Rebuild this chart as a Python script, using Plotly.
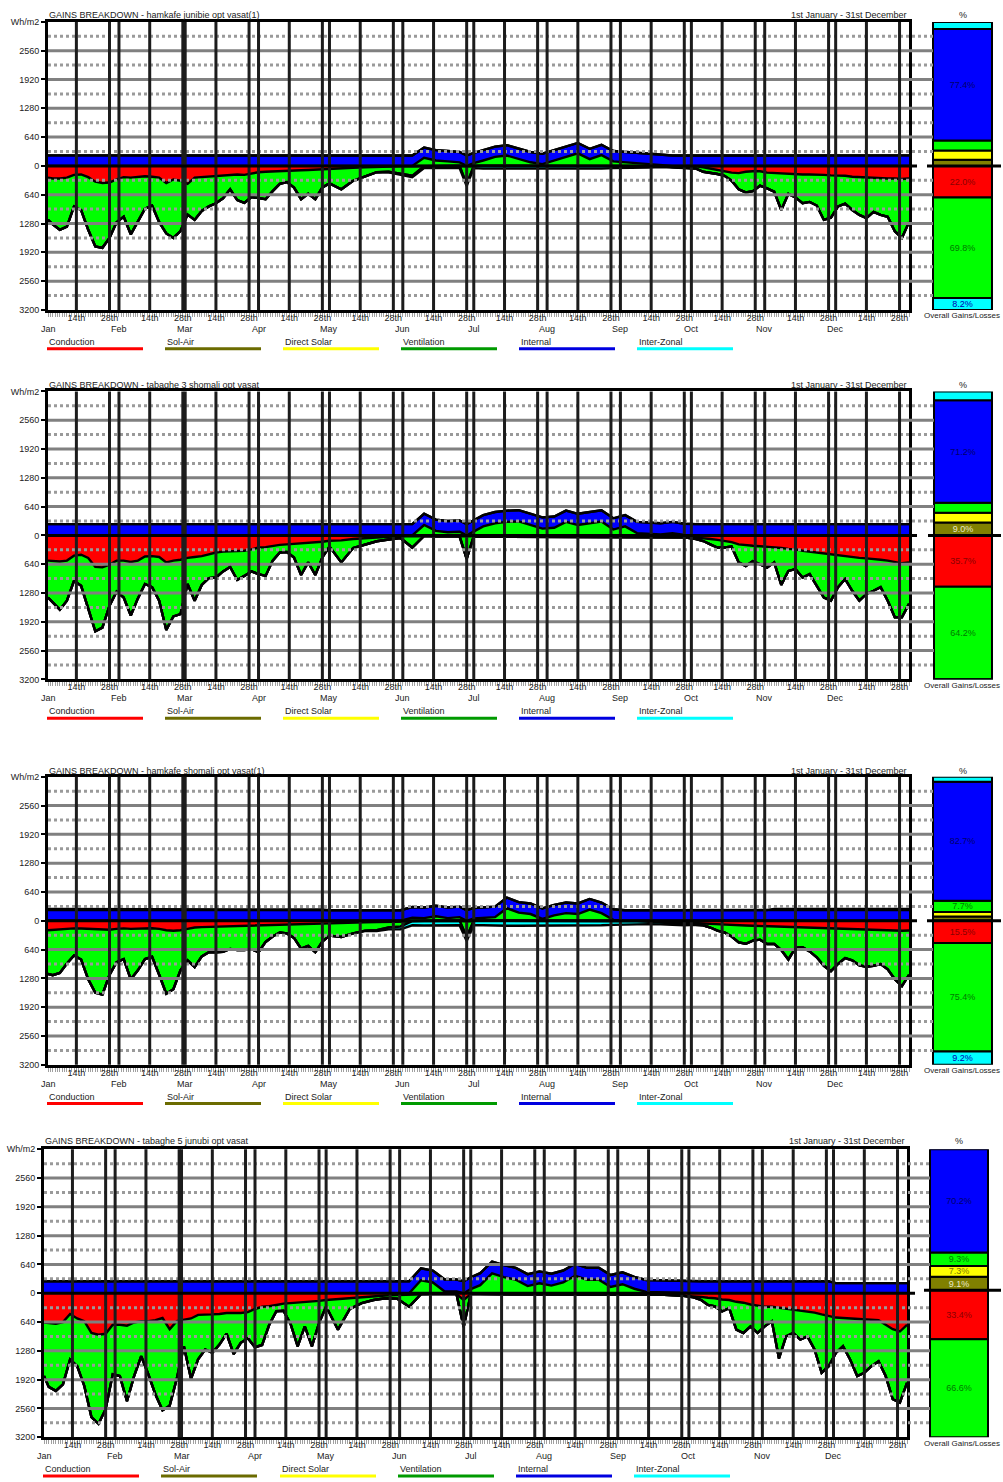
import numpy as np
import plotly.graph_objects as go

W, H = 1003, 1482
FONT = "Liberation Sans, Arial, Helvetica, sans-serif"

# ---------------- data ----------------
DAYS = [1, 3, 6, 9, 12, 15, 18, 21, 24, 27,
        30, 33, 36, 39, 42, 45, 48, 51, 54, 57,
        60, 63, 66, 69, 72, 75, 78, 81, 84, 87,
        90, 93, 96, 99, 102, 105, 108, 111, 114, 117,
        120, 125, 130, 135, 140, 145, 150, 155, 160, 165,
        170, 175, 178, 181, 185, 190, 195, 200, 205, 210,
        215, 220, 225, 230, 235, 240, 245, 250, 255, 260,
        265, 270, 275,
        278, 281, 284, 287, 290, 293, 296, 299, 302, 305,
        308, 311, 314, 317, 320, 323, 326, 329, 332, 335,
        338, 341, 344, 347, 350, 353, 356, 359, 362,
        365]

CATS = ["Conduction", "Sol-Air", "Direct Solar", "Ventilation", "Internal", "Inter-Zonal"]
MONTHS = ["Jan", "Feb", "Mar", "Apr", "May", "Jun", "Jul", "Aug", "Sep", "Oct", "Nov", "Dec"]
MONTH_START = [0, 31, 59, 90, 120, 151, 181, 212, 243, 273, 304, 334]

# Panel 1 - hamkafe junibie opt vasat(1)
P1_COND = [-260, -280, -280, -260, -200, -190, -250, -350, -380, -370,
           -300, -250, -260, -250, -230, -240, -260, -380, -300, -330,
           -400, -260, -250, -240, -220, -210, -200, -190, -200, -170,
           -140, -130, -120, -110, -100, -95, -95, -90, -80, -70,
           -60, -50, -40, -30, -20, -15, -10, -10, -5, 0,
           0, 0, -10, 0, 0, 0, 0, 0, 0, 0,
           0, 0, 0, 0, 0, 0, 0, 0, -5, -5,
           -5, -5, -10,
           -30, -60, -90, -110, -150, -160, -130, -120, -120, -150,
           -160, -170, -180, -180, -190, -190, -190, -200, -210, -210,
           -220, -240, -250, -260, -270, -280, -280, -280, -290,
           -280]
P1_VENT = [-940, -1020, -1140, -1090, -700, -790, -1170, -1440, -1440, -1230,
           -950, -880, -1260, -1000, -720, -640, -990, -1120, -1300, -1120,
           -680, -940, -750, -660, -610, -510, -320, -570, -620, -520,
           -580, -610, -440, -290, -260, -385, -645, -530, -660, -410,
           -330, -470, -290, -200, -120, -115, -160, -210, 180, 120,
           100, 80, -400, 60, 120, 200, 230, 150, 80, 40,
           120, 200, 280, 150, 240, 100, 80, 60, 30, 10,
           -20, -40, -50,
           -100, -90, -90, -110, -180, -360, -460, -440, -320, -350,
           -410, -810, -440, -520, -640, -610, -690, -1000, -940, -690,
           -620, -740, -840, -900, -750, -810, -850, -1170, -1310,
           -970]
P1_INT = [235, 235, 235, 235, 235, 235, 235, 235, 235, 235,
          235, 235, 235, 235, 235, 235, 235, 235, 235, 235,
          235, 235, 235, 235, 235, 235, 235, 235, 235, 235,
          235, 235, 235, 235, 235, 235, 235, 235, 235, 235,
          230, 230, 230, 230, 230, 230, 230, 230, 230, 230,
          230, 230, 230, 230, 230, 230, 230, 230, 230, 230,
          230, 230, 230, 230, 230, 230, 230, 230, 230, 230,
          230, 230, 230,
          235, 235, 235, 235, 235, 235, 235, 235, 235, 235,
          235, 235, 235, 235, 235, 235, 235, 235, 235, 235,
          235, 235, 235, 235, 235, 235, 235, 235, 235,
          235]
P1_IZ = [0, 0, 0, 0, 0, 0, 0, 0, 0, 0,
         0, 0, 0, 0, 0, 0, 0, 0, 0, 0,
         0, 0, 0, 0, 0, 0, 0, 0, 0, 0,
         0, 0, 0, 0, 0, 0, 0, 0, 0, 0,
         0, 0, 0, 0, 0, -10, -20, -30, -40, -50,
         -50, -50, -40, -50, -60, -60, -60, -70, -60, -60,
         -60, -60, -60, -60, -60, -50, -50, -40, -30, -20,
         -10, -10, 0,
         0, 0, 0, 0, 0, 0, 0, 0, 0, 0,
         0, 0, 0, 0, 0, 0, 0, 0, 0, 0,
         0, 0, 0, 0, 0, 0, 0, 0, 0,
         0]

# Panel 2 - tabaghe 3 shomali opt vasat
P2_COND = [-560, -570, -580, -560, -450, -430, -500, -700, -710, -650,
           -560, -560, -590, -560, -470, -460, -480, -600, -560, -540,
           -500, -480, -460, -420, -380, -360, -350, -350, -340, -310,
           -270, -260, -230, -210, -200, -190, -180, -170, -160, -140,
           -120, -110, -80, -60, -40, -30, -20, -20, -10, -20,
           -20, -20, -20, -20, -30, -30, -30, -30, -30, -30,
           -30, -30, -30, -30, -30, -30, -30, -30, -30, -30,
           -30, -40, -50,
           -60, -80, -100, -120, -150, -200, -220, -230, -240, -250,
           -260, -280, -300, -310, -340, -360, -390, -410, -430, -450,
           -470, -490, -500, -510, -520, -540, -560, -590, -620,
           -600]
P2_VENT = [-820, -910, -1070, -890, -560, -690, -1150, -1430, -1340, -910,
           -690, -820, -1190, -840, -610, -690, -970, -1500, -1240, -1210,
           -580, -970, -640, -530, -555, -440, -350, -640, -560, -490,
           -590, -640, -330, -170, -170, -300, -700, -430, -720, -350,
           -130, -490, -200, -140, -90, -60, -40, -250, 230, 100,
           70, 80, -500, 80, 200, 270, 300, 310, 230, 150,
           170, 300, 230, 270, 310, 130, 200, 50, 30, 20,
           50, 10, -30,
           -65, -120, -170, -150, -100, -400, -460, -340, -400, -465,
           -340, -820, -490, -440, -595, -500, -730, -970, -1020, -700,
           -500, -740, -950, -790, -710, -610, -890, -1230, -1200,
           -920]
P2_INT = [250, 250, 250, 250, 250, 250, 250, 250, 250, 250,
          250, 250, 250, 250, 250, 250, 250, 250, 250, 250,
          250, 250, 250, 250, 250, 250, 250, 250, 250, 250,
          250, 250, 250, 250, 250, 250, 250, 250, 250, 250,
          250, 250, 250, 250, 250, 250, 250, 250, 250, 250,
          250, 250, 250, 250, 250, 250, 250, 250, 250, 250,
          250, 250, 250, 250, 250, 250, 250, 250, 250, 250,
          250, 250, 250,
          250, 250, 250, 250, 250, 250, 250, 250, 250, 250,
          250, 250, 250, 250, 250, 250, 250, 250, 250, 250,
          250, 250, 250, 250, 250, 250, 250, 250, 250,
          250]
P2_IZ = [0, 0, 0, 0, 0, 0, 0, 0, 0, 0,
         0, 0, 0, 0, 0, 0, 0, 0, 0, 0,
         0, 0, 0, 0, 0, 0, 0, 0, 0, 0,
         0, 0, 0, 0, 0, 0, 0, 0, 0, 0,
         0, 0, 0, 0, 0, 0, 0, 0, 0, 0,
         0, 0, 0, 0, 0, 0, 0, 0, 0, 0,
         0, 0, 0, 0, 0, 0, 0, 0, 0, 0,
         0, 0, 0,
         0, 0, 0, 0, 0, 0, 0, 0, 0, 0,
         0, 0, 0, 0, 0, 0, 0, 0, 0, 0,
         0, 0, 0, 0, 0, 0, 0, 0, 0,
         0]

# Panel 3 - hamkafe shomali opt vasat(1)
P3_COND = [-210, -200, -190, -180, -170, -170, -180, -190, -200, -200,
           -180, -170, -180, -175, -165, -165, -180, -210, -220, -210,
           -180, -150, -140, -135, -130, -125, -120, -115, -110, -105,
           -100, -90, -85, -80, -75, -70, -70, -65, -60, -55,
           -50, -45, -40, -35, -30, -25, -20, -10, -5, 0,
           0, 0, -10, 0, 0, 0, 0, 0, 0, 0,
           0, 0, 0, 0, 0, 0, 0, 0, -5, -10,
           -20, -30, -40,
           -60, -70, -80, -90, -95, -100, -105, -110, -115, -120,
           -130, -140, -150, -155, -160, -165, -170, -175, -180, -185,
           -190, -195, -200, -200, -205, -210, -215, -220, -220,
           -215]
P3_VENT = [-970, -1010, -970, -770, -600, -690, -1120, -1410, -1440, -1000,
           -740, -680, -1120, -925, -685, -635, -1020, -1410, -1300, -890,
           -700, -880, -650, -565, -570, -565, -505, -535, -540, -525,
           -600, -380, -265, -180, -205, -310, -550, -495, -640, -405,
           -280, -315, -240, -185, -180, -125, -110, 70, 60, 100,
           60, 80, -350, 50, 60, 80, 280, 180, 150, 40,
           120, 170, 150, 250, 170, 20, 0, -10, -20, -30,
           -40, -50, -40,
           -40, -80, -140, -170, -255, -380, -405, -330, -305, -395,
           -385, -510, -710, -445, -430, -515, -640, -825, -940, -775,
           -640, -685, -790, -820, -795, -750, -865, -1080, -1230,
           -985]
P3_INT = [240, 240, 240, 240, 240, 240, 240, 240, 240, 240,
          240, 240, 240, 240, 240, 240, 240, 240, 240, 240,
          240, 240, 240, 240, 240, 240, 240, 240, 240, 240,
          240, 240, 240, 240, 240, 240, 240, 240, 240, 240,
          235, 235, 235, 235, 235, 235, 235, 235, 235, 235,
          235, 235, 235, 235, 235, 235, 235, 235, 235, 235,
          235, 235, 235, 235, 235, 235, 235, 235, 235, 235,
          235, 235, 235,
          240, 240, 240, 240, 240, 240, 240, 240, 240, 240,
          240, 240, 240, 240, 240, 240, 240, 240, 240, 240,
          240, 240, 240, 240, 240, 240, 240, 240, 240,
          240]
P3_IZ = [25, 25, 25, 25, 25, 25, 25, 25, 25, 25,
         25, 25, 25, 25, 25, 25, 25, 25, 25, 25,
         25, 25, 25, 25, 25, 25, 25, 25, 25, 25,
         25, 10, 10, 10, 10, 10, 10, 10, 10, 10,
         0, 0, 0, -10, -20, -40, -60, -90, -100, -100,
         -100, -100, -90, -100, -100, -110, -110, -110, -110, -100,
         -100, -100, -100, -100, -100, -90, -80, -70, -50, -40,
         -30, -20, -10,
         0, 0, 0, 0, 0, 0, 0, 0, 0, 0,
         25, 25, 25, 25, 25, 25, 25, 25, 25, 25,
         25, 25, 25, 25, 25, 25, 25, 25, 25,
         25]

# Panel 4 - tabaghe 5 junubi opt vasat
P4_COND = [-650, -660, -680, -640, -460, -560, -620, -880, -920, -900,
           -700, -700, -720, -650, -620, -620, -600, -550, -800, -620,
           -590, -560, -480, -480, -470, -460, -440, -440, -440, -420,
           -350, -300, -290, -260, -230, -220, -210, -200, -190, -170,
           -150, -130, -100, -80, -70, -50, -40, -30, -20, -20,
           -20, -20, -150, -20, -20, -20, -20, -20, -20, -20,
           -20, -20, -20, -20, -20, -20, -20, -20, -20, -30,
           -40, -50, -60,
           -80, -100, -110, -140, -150, -190, -210, -250, -280, -300,
           -300, -320, -350, -370, -390, -410, -430, -470, -500, -540,
           -550, -560, -570, -580, -590, -600, -700, -800, -850,
           -700]
P4_VENT = [-1190, -1420, -1490, -1384, -1010, -1060, -1440, -1870, -1980, -1676,
           -1100, -1140, -1680, -1190, -780, -1180, -1650, -2050, -1700, -1280,
           -590, -1340, -990, -770, -855, -680, -460, -910, -660, -580,
           -850, -850, -410, -140, -160, -460, -970, -536, -990, -492,
           -144, -680, -250, -140, -80, -60, -80, -270, 290, 240,
           40, 40, -600, 90, 180, 440, 360, 300, 160, 220,
           170, 240, 390, 300, 300, 140, 200, 100, 30, 20,
           20, 0, -30,
           -67, -158, -184, -265, -180, -620, -673, -486, -603, -436,
           -325, -1130, -607, -513, -640, -547, -820, -1296, -1120, -785,
           -628, -912, -1270, -1186, -1030, -910, -1140, -1555, -1580,
           -1290]
P4_INT = [265, 265, 265, 265, 265, 265, 265, 265, 265, 265,
          265, 265, 265, 265, 265, 265, 265, 265, 265, 265,
          265, 265, 265, 265, 265, 265, 265, 265, 265, 265,
          265, 265, 265, 265, 265, 265, 265, 265, 265, 265,
          265, 265, 265, 265, 265, 265, 265, 265, 265, 265,
          265, 265, 265, 265, 265, 265, 265, 265, 265, 265,
          265, 265, 265, 265, 265, 265, 265, 265, 265, 265,
          265, 265, 265,
          265, 265, 265, 265, 265, 265, 265, 265, 265, 265,
          265, 265, 265, 265, 265, 265, 265, 265, 265, 225,
          225, 225, 225, 225, 225, 225, 225, 225, 225,
          225]
P4_IZ = [0, 0, 0, 0, 0, 0, 0, 0, 0, 0,
         0, 0, 0, 0, 0, 0, 0, 0, 0, 0,
         0, 0, 0, 0, 0, 0, 0, 0, 0, 0,
         0, 0, 0, 0, 0, 0, 0, 0, 0, 0,
         0, 0, 0, 0, 0, 0, 0, 0, 0, 0,
         0, 0, 0, 0, 0, 0, 0, 0, 0, 0,
         0, 0, 0, 0, 0, 0, 0, 0, 0, 0,
         0, 0, 0,
         0, 0, 0, 0, 0, 0, 0, 0, 0, 0,
         0, 0, 0, 0, 0, 0, 0, 0, 0, 0,
         0, 0, 0, 0, 0, 0, 0, 0, 0,
         0]

# Overall gains / losses percentages (order of CATS)
P1_GAINS = [0, 4.2, 6.5, 6.9, 77.4, 5.0]
P1_LOSSES = [22.0, 0, 0, 69.8, 0, 8.2]
P2_GAINS = [0, 9.0, 6.7, 6.9, 71.2, 6.2]
P2_LOSSES = [35.7, 0, 0, 64.2, 0, 0.1]
P3_GAINS = [0, 3.0, 3.1, 7.7, 82.7, 3.5]
P3_LOSSES = [15.5, 0, 0, 75.4, 0, 9.2]
P4_GAINS = [0, 9.1, 7.3, 9.3, 70.2, 0]
P4_LOSSES = [33.4, 0, 0, 66.6, 0, 0]

TITLES = ["GAINS BREAKDOWN - hamkafe junibie opt vasat(1)",
          "GAINS BREAKDOWN - tabaghe 3 shomali opt vasat",
          "GAINS BREAKDOWN - hamkafe shomali opt vasat(1)",
          "GAINS BREAKDOWN - tabaghe 5 junubi opt vasat"]
PERIOD = "1st January - 31st December"

# ---------------- styling ----------------
FILL = {"Conduction": "#ff0000", "Sol-Air": "#808000", "Direct Solar": "#ffff00",
        "Ventilation": "#00ff00", "Internal": "#0000ff", "Inter-Zonal": "#00ffff"}
LEG_COL = {"Conduction": "#ff0000", "Sol-Air": "#6b6b00", "Direct Solar": "#ffff00",
           "Ventilation": "#009a00", "Internal": "#0000e0", "Inter-Zonal": "#00ffff"}
TXT_COL = {"Conduction": "#8a0000", "Sol-Air": "#e8e8c8", "Direct Solar": "#7a7a00",
           "Ventilation": "#007a00", "Internal": "#00006a", "Inter-Zonal": "#0000b0"}

GEOM = [dict(T=17, B=307, L=48, R=909, BL=933, BR=992, ty=10, tx=47, legx=[47, 165, 283, 401, 519, 637]),
        dict(T=389, B=679, L=48, R=909, BL=934, BR=992, ty=383, tx=47, legx=[47, 165, 283, 401, 519, 637]),
        dict(T=777, B=1067, L=48, R=909, BL=933, BR=992, ty=771, tx=47, legx=[47, 165, 283, 401, 519, 637]),
        dict(T=1152, B=1442, L=44, R=907, BL=930, BR=988, ty=1144, tx=43, legx=[43, 161, 280, 398, 516, 634])]

PANELS = [
    (P1_COND, P1_VENT, P1_INT, P1_IZ, P1_GAINS, P1_LOSSES),
    (P2_COND, P2_VENT, P2_INT, P2_IZ, P2_GAINS, P2_LOSSES),
    (P3_COND, P3_VENT, P3_INT, P3_IZ, P3_GAINS, P3_LOSSES),
    (P4_COND, P4_VENT, P4_INT, P4_IZ, P4_GAINS, P4_LOSSES),
]
for arrs in PANELS:
    for a in arrs[:4]:
        assert len(a) == len(DAYS), len(a)

# x ticks: 14th / 28th on the first row, month names on a second row
DAY_TICKS, DAY_TEXT = [], []
MON_TICKS = []
for name, s in zip(MONTHS, MONTH_START):
    MON_TICKS.append(max(s, 1))
    DAY_TICKS += [s + 13, s + 27]
    DAY_TEXT += ["14th", "28th"]
GRID_X = sorted([t for t in MON_TICKS if t > 1] + DAY_TICKS)

YVALS = [-3200, -2560, -1920, -1280, -640, 0, 640, 1280, 1920, 2560, 3200]
YTEXT = ["3200", "2560", "1920", "1280", "640", "0", "640", "1280", "1920", "2560", "Wh/m2"]


def px(x):
    return x / W


def py(y):
    return 1 - y / H


fig = go.Figure()
layout = dict(width=W, height=H, margin=dict(l=0, r=0, t=0, b=0), autosize=False,
              paper_bgcolor="white", plot_bgcolor="white", showlegend=False,
              barmode="relative", font=dict(family=FONT, size=9, color="#222"),
              uniformtext=dict(minsize=9, mode="show"))
shapes, annotations = [], []

for i, (g, data) in enumerate(zip(GEOM, PANELS)):
    cond, vent, internal, iz, gains, losses = data
    n = 2 * i + 1
    xa = "x" if n == 1 else f"x{n}"
    ya = "y" if n == 1 else f"y{n}"
    xb, yb = f"x{n + 1}", f"y{n + 1}"
    xdom = [px(g["L"]), px(g["R"])]
    ydom = [py(g["B"]), py(g["T"])]

    # --- stacked areas (gains above zero, losses below zero) ---
    series = [("Conduction", cond), ("Ventilation", vent), ("Internal", internal), ("Inter-Zonal", iz)]
    for sign in ("pos", "neg"):
        for name, vals in series:
            arr = np.asarray(vals, dtype=float)
            part = np.maximum(arr, 0) if sign == "pos" else np.minimum(arr, 0)
            fig.add_trace(go.Scatter(
                x=DAYS, y=part, mode="lines", stackgroup=f"p{i}{sign}",
                line=dict(color="black", width=2.4), fillcolor=FILL[name],
                xaxis=xa, yaxis=ya, hoverinfo="skip", name=name))

    # --- overall bar ---
    dom0, dom1 = g["R"] + 2, 1001
    center = ((g["BL"] + g["BR"]) / 2 - dom0) / (dom1 - dom0)
    bw = (g["BR"] - g["BL"]) / (dom1 - dom0)
    for sgn, vals in ((1, gains), (-1, losses)):
        for cat, v in zip(CATS, vals):
            if v <= 0:
                continue
            fig.add_trace(go.Bar(
                x=[center], y=[sgn * v], width=bw, xaxis=xb, yaxis=yb,
                marker=dict(color=FILL[cat], line=dict(color="black", width=2)),
                text=[f"{v:.1f}%" if v >= 7 else ""], textposition="inside",
                insidetextanchor="middle", textangle=0,
                textfont=dict(color=TXT_COL[cat], size=9, family=FONT),
                hoverinfo="skip", name=cat))

    layout[("xaxis" if n == 1 else f"xaxis{n}")] = dict(
        domain=xdom, range=[1, 365], anchor=ya, tickmode="array", tickvals=DAY_TICKS,
        ticktext=DAY_TEXT, tickangle=0, showgrid=False, zeroline=False,
        showline=True, mirror=True, linecolor="black", linewidth=3,
        ticks="outside", ticklen=4, tickcolor="#999999", tickwidth=1,
        ticklabelstandoff=-7,
        tickfont=dict(size=9, color="#222"), fixedrange=True,
        minor=dict(tickmode="linear", tick0=1, dtick=1, ticks="outside", ticklen=4,
                   tickcolor="#a0a0a0", tickwidth=1, showgrid=False))
    layout[("yaxis" if n == 1 else f"yaxis{n}")] = dict(
        domain=ydom, range=[-3200, 3200], anchor=xa, tickmode="array", tickvals=YVALS,
        ticktext=YTEXT, showgrid=False, zeroline=False, showline=True, mirror=True,
        linecolor="black", linewidth=3, ticks="outside", ticklen=4, tickcolor="black",
        tickwidth=2, tickfont=dict(size=9, color="#222"), fixedrange=True)
    layout[f"xaxis{n + 1}"] = dict(domain=[px(dom0), px(dom1)], range=[0, 1], anchor=yb,
                                   visible=False, fixedrange=True)
    layout[f"yaxis{n + 1}"] = dict(domain=ydom, range=[-sum(losses), sum(gains)], anchor=xb,
                                   visible=False, fixedrange=True)

    # month names: second row of the x axis labels
    for mname, mt in zip(MONTHS, MON_TICKS):
        annotations.append(dict(text=mname, x=mt, xref=xa, y=py(g["B"] + 19), yref="paper",
                                xanchor="center", yanchor="middle", showarrow=False,
                                font=dict(size=9)))

    # --- grid lines drawn above the areas ---
    for v in range(-2880, 3200, 320):
        if v == 0:
            continue
        major = v % 640 == 0
        shapes.append(dict(type="line", xref="paper", yref=ya, x0=px(g["L"]), x1=px(g["BL"]),
                           y0=v, y1=v, layer="above",
                           line=dict(color="#808080" if major else "#9a9a9a", width=3,
                                     dash="solid" if major else "dot")))
    for t in GRID_X:
        shapes.append(dict(type="line", xref=xa, yref=f"{ya} domain", x0=t, x1=t, y0=0, y1=1,
                           layer="above", line=dict(color="#1c1c1c", width=3)))
    shapes.append(dict(type="line", xref="paper", yref=ya, x0=px(g["L"]), x1=px(g["R"] + 8),
                       y0=0, y1=0, layer="above", line=dict(color="black", width=3)))
    shapes.append(dict(type="line", xref="paper", yref=yb, x0=px(g["BL"] - 6), x1=px(1001),
                       y0=0, y1=0, layer="above", line=dict(color="black", width=3)))

    # --- texts ---
    bc = (g["BL"] + g["BR"]) / 2
    annotations.append(dict(text=TITLES[i], x=px(g["tx"]), y=py(g["ty"]), xref="paper", yref="paper",
                            xanchor="left", yanchor="middle", showarrow=False, font=dict(size=9)))
    annotations.append(dict(text=PERIOD, x=px(g["R"]), y=py(g["ty"]), xref="paper", yref="paper",
                            xanchor="right", yanchor="middle", showarrow=False, font=dict(size=9)))
    annotations.append(dict(text="%", x=px(bc), y=py(g["ty"]), xref="paper", yref="paper",
                            xanchor="center", yanchor="middle", showarrow=False, font=dict(size=9)))
    annotations.append(dict(text="Overall Gains/Losses", x=px(1002), y=py(g["B"] + 6), xref="paper",
                            yref="paper", xanchor="right", yanchor="middle", showarrow=False,
                            font=dict(size=8)))
    for cat, lx in zip(CATS, g["legx"]):
        annotations.append(dict(text=cat, x=px(lx), y=py(g["B"] + 32), xref="paper", yref="paper",
                                xanchor="left", yanchor="middle", showarrow=False,
                                font=dict(size=9)))
        shapes.append(dict(type="line", xref="paper", yref="paper", x0=px(lx), x1=px(lx + 96),
                           y0=py(g["B"] + 39), y1=py(g["B"] + 39),
                           line=dict(color=LEG_COL[cat], width=3)))

layout["shapes"] = shapes
layout["annotations"] = annotations
fig.update_layout(**layout)
fig.write_html("out.html", config={"displayModeBar": False},
               post_script="document.body.style.margin='0px';document.body.style.padding='0px';")
